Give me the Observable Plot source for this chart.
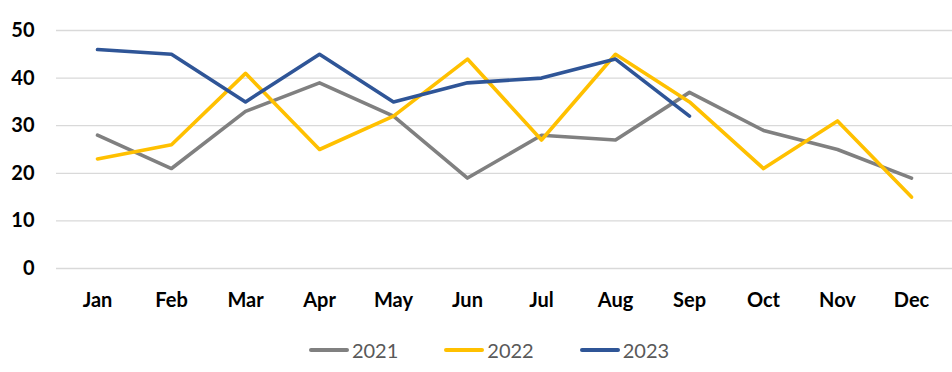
<!DOCTYPE html>
<html>
<head>
<meta charset="utf-8">
<script src="https://cdn.jsdelivr.net/npm/d3@7"></script>
<script src="https://cdn.jsdelivr.net/npm/@observablehq/plot@0.6"></script>
<style>
  html, body { margin: 0; padding: 0; background: #fff; }
  #chart { width: 952px; }
  .legend { display: flex; justify-content: center; gap: 46px; margin-top: 18px; padding-left: 26px;
    font-family: Lato, "Open Sans", sans-serif; font-size: 20px; color: #595959; }
  .legend .item { display: flex; align-items: center; }
  .legend .sw { width: 40px; height: 4px; border-radius: 2px; margin-right: 3px; }
</style>
</head>
<body>
<div id="chart"></div>
<script>
const months = ["Jan","Feb","Mar","Apr","May","Jun","Jul","Aug","Sep","Oct","Nov","Dec"];
const series = ["2021","2022","2023"];
const colors = ["#808080","#FFC000","#2F5597"];
const v2021 = [28,21,33,39,32,19,28,27,37,29,25,19];
const v2022 = [23,26,41,25,32,44,27,45,35,21,31,15];
const v2023 = [46,45,35,45,35,39,40,44,32];
const yTicks = [0,10,20,30,40,50];

const values = [v2021, v2022, v2023];
const data = [];
series.forEach((s, i) => values[i].forEach((v, j) => data.push({series: s, month: months[j], value: v})));

const plot = Plot.plot({
  width: 952,
  height: 320,
  marginLeft: 56,
  marginRight: 0,
  marginTop: 30,
  marginBottom: 52,
  style: {fontFamily: "Lato, 'Open Sans', sans-serif", fontSize: "20px", fontWeight: "bold", color: "#000"},
  x: {type: "point", domain: months, padding: 0.5, align: 0.5, label: null},
  y: {domain: [0, 50], label: null},
  color: {domain: series, range: colors},
  marks: [
    Plot.ruleY(yTicks, {stroke: "#d9d9d9", strokeWidth: 1.3}),
    Plot.axisY({ticks: yTicks, tickSize: 0, tickPadding: 22, label: null, fontWeight: "bold"}),
    Plot.axisX({tickSize: 0, tickPadding: 24, label: null, fontWeight: "bold"}),
    Plot.line(data, {x: "month", y: "value", z: "series", stroke: "series", strokeWidth: 3.6, strokeLinejoin: "round", strokeLinecap: "round"})
  ]
});
document.getElementById("chart").appendChild(plot);

const legend = document.createElement("div");
legend.className = "legend";
series.forEach((s, i) => {
  const it = document.createElement("div");
  it.className = "item";
  it.innerHTML = `<span class="sw" style="background:${colors[i]}"></span><span>${s}</span>`;
  legend.appendChild(it);
});
document.getElementById("chart").appendChild(legend);
</script>
</body>
</html>
